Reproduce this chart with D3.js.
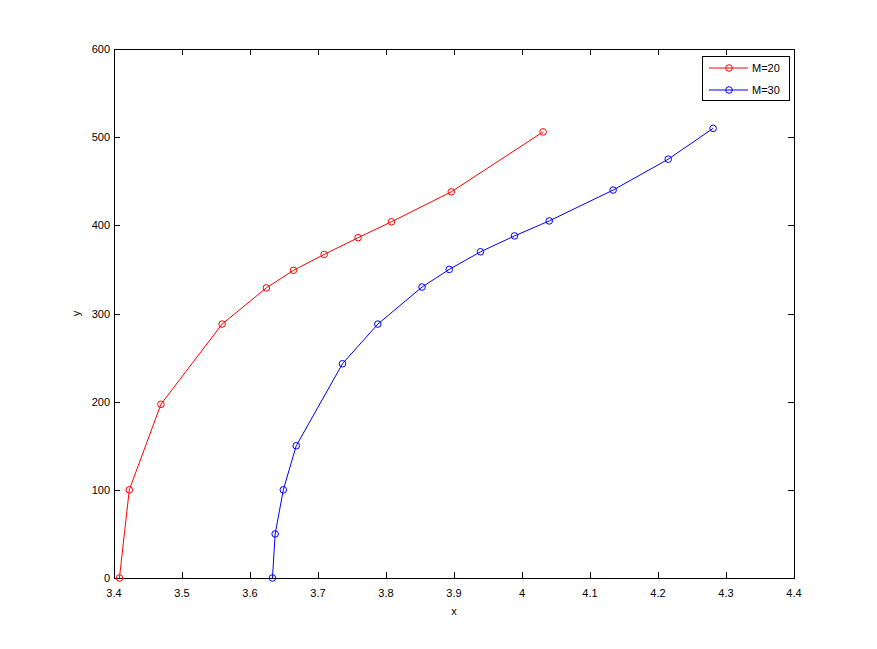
<!DOCTYPE html>
<html><head><meta charset="utf-8">
<script src="https://cdn.jsdelivr.net/npm/d3@7"></script>
<style>body{margin:0;background:#fff}svg text{font-family:"Liberation Sans",Arial,sans-serif;font-size:11px;fill:#000}</style>
</head><body><svg id="c" width="877" height="649"></svg>
<script>
const seriesNames = ["M=20", "M=30"];
const seriesColors = ["#ff0000", "#0000ff"];
const xM20 = [3.408, 3.4225, 3.469, 3.559, 3.624, 3.664, 3.709, 3.759, 3.808, 3.896, 4.031];
const yM20 = [0, 100, 197, 288, 329, 349, 367, 386, 404, 438, 506];
const xM30 = [3.633, 3.637, 3.649, 3.668, 3.736, 3.788, 3.853, 3.893, 3.939, 3.989, 4.040, 4.134, 4.215, 4.281];
const yM30 = [0, 50, 100, 150, 243, 288, 330, 350, 370, 388, 405, 440, 475, 510];
const xTicks = [3.4, 3.5, 3.6, 3.7, 3.8, 3.9, 4, 4.1, 4.2, 4.3, 4.4];
const yTicks = [0, 100, 200, 300, 400, 500, 600];

const L = 114, R = 794, T = 49, B = 578;
const x = d3.scaleLinear().domain([3.4, 4.4]).range([L, R]);
const y = d3.scaleLinear().domain([0, 600]).range([B, T]);
const svg = d3.select("#c");
const series = [
  xM20.map((v, i) => [v, yM20[i]]),
  xM30.map((v, i) => [v, yM30[i]])
];

// axes box
const g = svg.append("g").attr("shape-rendering", "crispEdges");
g.append("rect").attr("x", L + 0.5).attr("y", T + 0.5).attr("width", R - L).attr("height", B - T)
  .attr("fill", "none").attr("stroke", "#000");
const tl = 6;
xTicks.forEach(t => {
  const px = Math.round(x(t)) + 0.5;
  g.append("line").attr("x1", px).attr("x2", px).attr("y1", B).attr("y2", B - tl).attr("stroke", "#000");
  g.append("line").attr("x1", px).attr("x2", px).attr("y1", T).attr("y2", T + tl).attr("stroke", "#000");
  svg.append("text").attr("x", x(t)).attr("y", B + 19).attr("text-anchor", "middle").text(d3.format("")(t));
});
yTicks.forEach(t => {
  const py = Math.round(y(t)) + 0.5;
  g.append("line").attr("x1", L).attr("x2", L + tl).attr("y1", py).attr("y2", py).attr("stroke", "#000");
  g.append("line").attr("x1", R).attr("x2", R - tl).attr("y1", py).attr("y2", py).attr("stroke", "#000");
  svg.append("text").attr("x", L - 4).attr("y", y(t) + 4).attr("text-anchor", "end").text(t);
});
svg.append("text").attr("x", (L + R) / 2).attr("y", 615).attr("text-anchor", "middle").text("x");
svg.append("text").attr("transform", `translate(80,${(T + B) / 2}) rotate(-90)`).attr("text-anchor", "middle").text("y");

const line = d3.line().x(d => x(d[0])).y(d => y(d[1]));
series.forEach((s, i) => {
  svg.append("path").datum(s).attr("d", line).attr("fill", "none").attr("stroke", seriesColors[i]).attr("stroke-width", 1);
  svg.selectAll(null).data(s).enter().append("circle")
    .attr("cx", d => x(d[0])).attr("cy", d => y(d[1])).attr("r", 3.3)
    .attr("fill", "none").attr("stroke", seriesColors[i]).attr("stroke-width", 1);
});

// legend
const lg = svg.append("g");
lg.append("rect").attr("x", 702.5).attr("y", 56.5).attr("width", 87).attr("height", 44)
  .attr("fill", "#fff").attr("stroke", "#000").attr("shape-rendering", "crispEdges");
seriesNames.forEach((n, i) => {
  const ly = 68 + i * 22;
  lg.append("line").attr("x1", 709).attr("x2", 748).attr("y1", ly).attr("y2", ly).attr("stroke", seriesColors[i]);
  lg.append("circle").attr("cx", 729).attr("cy", ly).attr("r", 3.3).attr("fill", "none").attr("stroke", seriesColors[i]);
  lg.append("text").attr("x", 752).attr("y", ly + 4).text(n);
});
</script></body></html>
